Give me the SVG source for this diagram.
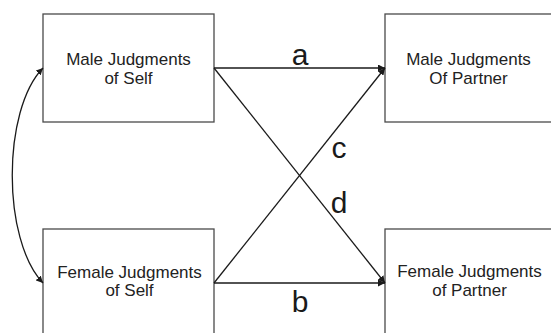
<svg xmlns="http://www.w3.org/2000/svg" width="551" height="333" viewBox="0 0 551 333">
<style>
.box{fill:#fff;stroke:#4a4a4a;stroke-width:1.3}
.t{font-family:"Liberation Sans",Arial,sans-serif;font-size:17px;fill:#222;text-anchor:middle}
.lbl{font-family:"Liberation Sans",Arial,sans-serif;font-size:30px;fill:#1a1a1a;text-anchor:middle}
.ln{fill:none;stroke:#1a1a1a;stroke-width:1.3}
</style>
<defs>
<marker id="ah" viewBox="0 0 10 10" refX="10" refY="5" markerWidth="7" markerHeight="7" markerUnits="userSpaceOnUse" orient="auto-start-reverse">
<path d="M0,0 L10,5 L0,10 z" fill="#1a1a1a"/>
</marker>
</defs>
<rect width="551" height="333" fill="#fff"/>
<g id="male-self">
<rect class="box" x="43" y="14" width="171" height="108"/>
<text class="t" x="128.5" y="65">Male Judgments</text>
<text class="t" x="128.5" y="84">of Self</text>
</g>
<g id="male-partner">
<rect class="box" x="385" y="14" width="180" height="108"/>
<text class="t" x="468.5" y="65">Male Judgments</text>
<text class="t" x="468.5" y="84">Of Partner</text>
</g>
<g id="female-self">
<rect class="box" x="43" y="229" width="171" height="120"/>
<text class="t" x="129.5" y="278">Female Judgments</text>
<text class="t" x="129.5" y="296">of Self</text>
</g>
<g id="female-partner">
<rect class="box" x="385" y="229" width="180" height="120"/>
<text class="t" x="469.5" y="277">Female Judgments</text>
<text class="t" x="469.5" y="296">of Partner</text>
</g>
<g id="connectors">
<path class="ln" d="M214,68 L385,68" marker-end="url(#ah)"/>
<path class="ln" d="M214,283 L385,283" marker-end="url(#ah)"/>
<path class="ln" d="M214,68 L385,283" marker-end="url(#ah)"/>
<path class="ln" d="M214,283 L385,68" marker-end="url(#ah)"/>
<path class="ln" d="M43,68 C2,110 2,240 43,283" marker-start="url(#ah)" marker-end="url(#ah)"/>
<text class="lbl" x="300" y="65">a</text>
<text class="lbl" x="300" y="312">b</text>
<text class="lbl" x="339" y="158">c</text>
<text class="lbl" x="339" y="213">d</text>
</g>
</svg>
